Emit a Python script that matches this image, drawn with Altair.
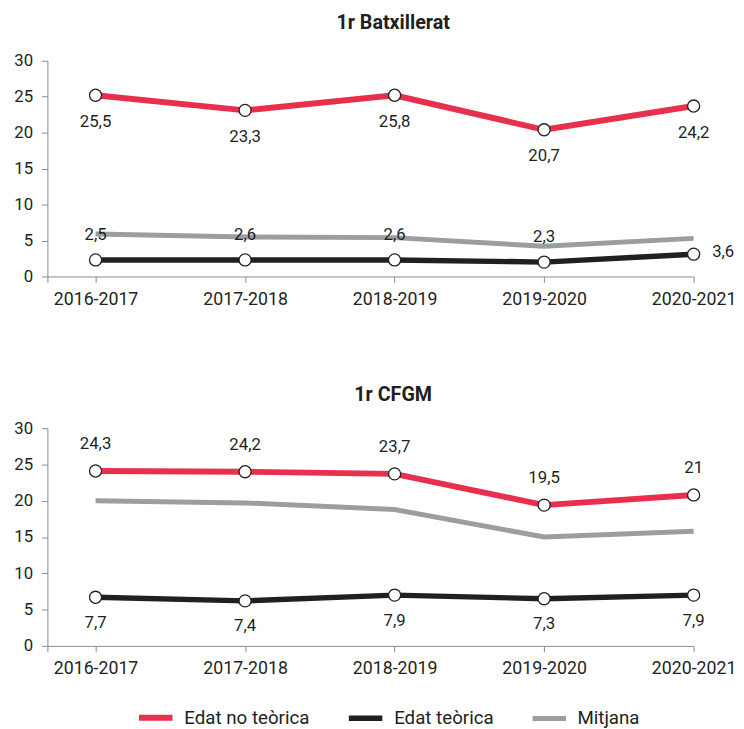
import json
import altair as alt
import pandas as pd

# ---------------- data ----------------
years = ["2016-2017", "2017-2018", "2018-2019", "2019-2020", "2020-2021"]
series_names = ["Edat no teòrica", "Edat teòrica", "Mitjana"]
series_colors = ["#e8304e", "#231f20", "#9d9d9f"]
series_widths = [6, 5, 2.5]

# 1r Batxillerat (plotted values and their printed labels)
bat_no_teorica = [25.2, 23.1, 25.2, 20.4, 23.7]
bat_teorica = [2.3, 2.3, 2.3, 2.0, 3.1]
bat_mitjana = [5.9, 5.5, 5.4, 4.2, 5.3]
bat_no_teorica_labels = ["25,5", "23,3", "25,8", "20,7", "24,2"]
bat_teorica_labels = ["2,5", "2,6", "2,6", "2,3", "3,6"]

# 1r CFGM
cfgm_no_teorica = [24.1, 24.0, 23.7, 19.4, 20.8]
cfgm_teorica = [6.7, 6.2, 7.0, 6.5, 7.0]
cfgm_mitjana = [20.0, 19.7, 18.8, 15.0, 15.8]
cfgm_no_teorica_labels = ["24,3", "24,2", "23,7", "19,5", "21"]
cfgm_teorica_labels = ["7,7", "7,4", "7,9", "7,3", "7,9"]

FONT = "Roboto"
TXT = "#231f20"
AX = "#8a8a8a"
X_LO = -0.322
W = 656

label_expr = "datum.value >= 0 ? " + json.dumps(years) + "[round(datum.value)] : ''"

legend = alt.Legend(title=None, orient="none", legendX=90, legendY=647,
                    direction="horizontal")


def panel(title, title_offset, height, no_teo, teo, mitj, no_teo_lab, teo_lab,
          red_dy, black_dy, last_black_side):
    idx = list(range(len(years)))
    lines = pd.DataFrame({
        "i": idx * 3,
        "year": years * 3,
        "value": no_teo + teo + mitj,
        "series": [n for n in series_names for _ in years],
    })
    red = pd.DataFrame({"i": idx, "value": no_teo, "label": no_teo_lab})
    blk = pd.DataFrame({"i": idx, "value": teo, "label": teo_lab})

    x = alt.X("i:Q", title=None,
              scale=alt.Scale(domain=[X_LO, 4], nice=False, zero=False),
              axis=alt.Axis(values=[X_LO, 0, 1, 2, 3, 4], labelExpr=label_expr,
                            labelFlush=False, labelOverlap=False, grid=False,
                            labelFontSize=18, tickSize=6, labelPadding=8))
    y = alt.Y("value:Q", title=None,
              scale=alt.Scale(domain=[0, 30], nice=False, zero=True),
              axis=alt.Axis(values=[0, 5, 10, 15, 20, 25, 30], tickCount=7,
                            grid=False, labelOverlap=False, labelFlush=False,
                            tickSize=6, labelPadding=9))

    line = alt.Chart(lines).mark_line().encode(
        x=x, y=y,
        color=alt.Color("series:N", scale=alt.Scale(domain=series_names, range=series_colors),
                        legend=legend),
        strokeWidth=alt.StrokeWidth("series:N",
                                    scale=alt.Scale(domain=series_names, range=series_widths),
                                    legend=legend),
    )
    pts_data = pd.concat([red, blk])
    pts = alt.Chart(pts_data).mark_point(
        shape="circle", filled=True, fill="white", stroke=TXT, strokeWidth=1.3,
        size=150, opacity=1).encode(x=x, y=y)

    red_txt = alt.Chart(red).mark_text(
        dy=red_dy, font=FONT, fontSize=17, color=TXT, baseline="middle"
    ).encode(x=x, y=y, text="label:N")

    layers = [line, pts, red_txt]
    if last_black_side:
        b1 = alt.Chart(blk).transform_filter("datum.i < 4").mark_text(
            dy=black_dy, font=FONT, fontSize=17, color=TXT, baseline="middle"
        ).encode(x=x, y=y, text="label:N")
        b2 = alt.Chart(blk).transform_filter("datum.i == 4").mark_text(
            dx=30, dy=-2, font=FONT, fontSize=17, color=TXT, baseline="middle"
        ).encode(x=x, y=y, text="label:N")
        layers += [b1, b2]
    else:
        b1 = alt.Chart(blk).mark_text(
            dy=black_dy, font=FONT, fontSize=17, color=TXT, baseline="middle"
        ).encode(x=x, y=y, text="label:N")
        layers += [b1]

    return alt.layer(*layers).properties(
        width=W, height=height,
        title=alt.TitleParams(title, fontSize=20, font=FONT, fontWeight="bold",
                              color=TXT, anchor="middle", dx=23, offset=title_offset),
    )


p1 = panel("1r Batxillerat", 19, 219, bat_no_teorica, bat_teorica, bat_mitjana,
           bat_no_teorica_labels, bat_teorica_labels, 27, -25, True)
p2 = panel("1r CFGM", 15, 221, cfgm_no_teorica, cfgm_teorica, cfgm_mitjana,
           cfgm_no_teorica_labels, cfgm_teorica_labels, -27, 26, False)

chart = alt.vconcat(p1, p2, spacing=78).properties(
    padding={"left": 5, "top": 0, "right": 0, "bottom": 5}
).configure_view(stroke=None).configure_axis(
    labelFont=FONT, labelFontSize=17, labelColor=TXT,
    domainColor=AX, tickColor=AX, domainWidth=1, tickWidth=1,
).configure_legend(
    symbolType="stroke", symbolSize=1156, labelFont=FONT, labelFontSize=19,
    labelColor=TXT, columnPadding=28, labelOffset=9, padding=0,
)

chart.save("out.html", embed_options={"renderer": "svg", "actions": False})
